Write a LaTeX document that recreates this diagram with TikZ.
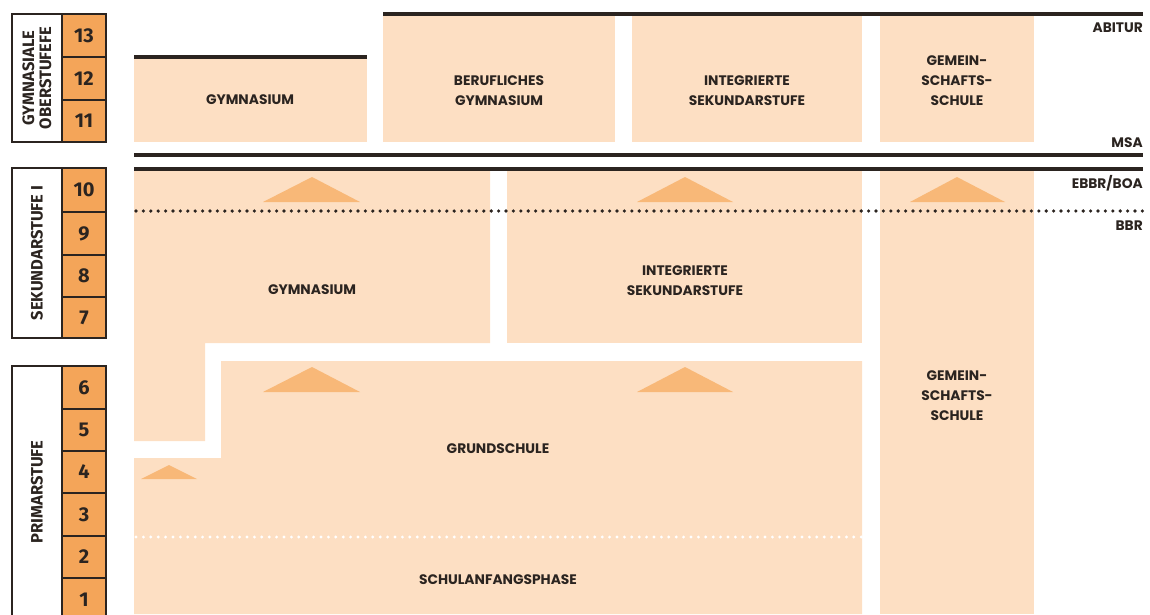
\documentclass[tikz,border=0pt]{standalone}
\usepackage{fontspec}
\newfontfamily\labfont{Poppins}
\newfontfamily\numfont{Fira Sans}
\definecolor{peach}{HTML}{FDDFC3}
\definecolor{tricol}{HTML}{F8B878}
\definecolor{cellor}{HTML}{F4A559}
\definecolor{ink}{HTML}{2B2420}
\tikzset{
  area/.style={fill=peach, draw=none},
  tri/.style={fill=tricol, draw=none},
  bar/.style={draw=ink, line width=3.5pt},
  dotline/.style={draw=ink, line width=3.6pt, line cap=round, dash pattern=on 0pt off 7.4pt},
  wdotline/.style={draw=white, line width=3.2pt, line cap=round, dash pattern=on 0pt off 7.4pt},
  lab/.style={font=\labfont\bfseries\fontsize{13.8}{20}\selectfont, text=ink, align=center, inner sep=0pt},
  rlab/.style={lab, anchor=east},
  cell/.style={fill=cellor, draw=ink, line width=1.8pt},
  stagebox/.style={fill=white, draw=ink, line width=1.8pt},
  num/.style={font=\numfont\bfseries\fontsize{20}{20}\selectfont, text=ink, inner sep=0pt},
  stage/.style={font=\numfont\bfseries\fontsize{16.5}{17}\selectfont, text=ink, rotate=90, align=center, inner sep=0pt}
}
\begin{document}
\begin{tikzpicture}[x=1pt, y=-1pt]
\useasboundingbox (0,0) rectangle (1150,614);
% ---- upper level (11-13)
\fill[area] (134,57) rectangle (367,142);
\fill[area] (383,14) rectangle (615,142);
\fill[area] (632,14) rectangle (862,142);
\fill[area] (880,14) rectangle (1034,142);
% ---- Sekundarstufe I
\fill[area] (134,169) -- (490,169) -- (490,343) -- (205,343) -- (205,441) -- (134,441) -- cycle;
\fill[area] (507,169) rectangle (862,343);
\fill[area] (880,169) rectangle (1034,614);
% ---- Grundschule
\fill[area] (221,361) -- (862,361) -- (862,614) -- (134,614) -- (134,458) -- (221,458) -- cycle;
% ---- triangles
\fill[tri] (263,202) -- (312,177) -- (360,202) -- cycle;
\fill[tri] (637,202) -- (685,177) -- (733,202) -- cycle;
\fill[tri] (910,202) -- (957,177) -- (1005,202) -- cycle;
\fill[tri] (263,392) -- (312,367) -- (360,392) -- cycle;
\fill[tri] (637,392) -- (685,367) -- (733,392) -- cycle;
\fill[tri] (141,479) -- (169,465) -- (197,479) -- cycle;
% ---- lines
\coordinate (gl) at (134,57); \coordinate (gr) at (367,57);
\draw[bar] (gl) -- (gr);
\coordinate (al) at (383,14); \coordinate (ar) at (1143,14);
\draw[bar] (al) -- (ar);
\coordinate (m1l) at (134,155); \coordinate (m1r) at (1143,155);
\coordinate (m2l) at (134,169); \coordinate (m2r) at (1143,169);
\draw[bar] (m1l) -- (m1r);
\draw[bar] (m2l) -- (m2r);
\coordinate (bl) at (136,211); \coordinate (br) at (1143,211);
\draw[dotline] (bl) -- (br);
\coordinate (sl) at (136,537); \coordinate (sr) at (862,537);
\draw[wdotline] (sl) -- (sr);
% ---- labels in areas
\node[lab] (gymo) at (250,100) {GYMNASIUM};
\node[lab] (bgym) at (499,91) {BERUFLICHES\\GYMNASIUM};
\node[lab] (isso) at (747,91) {INTEGRIERTE\\SEKUNDARSTUFE};
\node[lab] (gemo) at (957,81) {GEMEIN-\\SCHAFTS-\\SCHULE};
\node[lab] (gymu) at (312,290) {GYMNASIUM};
\node[lab] (issu) at (685,281) {INTEGRIERTE\\SEKUNDARSTUFE};
\node[lab] (gemu) at (957,396) {GEMEIN-\\SCHAFTS-\\SCHULE};
\node[lab] (grund) at (498,449) {GRUNDSCHULE};
\node[lab] (sap) at (498,580) {SCHULANFANGSPHASE};
% ---- right labels
\node[rlab] (abi) at (1143,28) {ABITUR};
\node[rlab] (msa) at (1143,143) {MSA};
\node[rlab] (ebbr) at (1143,183) {EBBR/BOA};
\node[rlab] (bbr) at (1143,226) {BBR};
% ---- stage boxes
\draw[stagebox] (12,14) rectangle (62,142);
\draw[cell] (62,14) rectangle (106,57);
\draw[cell] (62,57) rectangle (106,100);
\draw[cell] (62,100) rectangle (106,142);
\node[num] (n13) at (84,35.5) {13};
\node[num] (n12) at (84,78.5) {12};
\node[num] (n11) at (84,121) {11};
\node[stage] (s1) at (37,78) {GYMNASIALE\\OBERSTUFEFE};
\draw[stagebox] (12,168) rectangle (62,338);
\draw[cell] (62,168) rectangle (106,212);
\draw[cell] (62,212) rectangle (106,255);
\draw[cell] (62,255) rectangle (106,297);
\draw[cell] (62,297) rectangle (106,338);
\node[num] (n10) at (84,190) {10};
\node[num] (n9) at (84,233.5) {9};
\node[num] (n8) at (84,276) {8};
\node[num] (n7) at (84,317.5) {7};
\node[stage] (s2) at (37,253) {SEKUNDARSTUFE I};
\draw[stagebox] (12,366) rectangle (62,640);
\draw[cell] (62,366) rectangle (106,409);
\draw[cell] (62,409) rectangle (106,451);
\draw[cell] (62,451) rectangle (106,493);
\draw[cell] (62,493) rectangle (106,536);
\draw[cell] (62,536) rectangle (106,578);
\draw[cell] (62,578) rectangle (106,640);
\node[num] (n6) at (84,387.5) {6};
\node[num] (n5) at (84,430) {5};
\node[num] (n4) at (84,472) {4};
\node[num] (n3) at (84,514.5) {3};
\node[num] (n2) at (84,557) {2};
\node[num] (n1) at (84,599.5) {1};
\node[stage] (s3) at (37,492) {PRIMARSTUFE};
\end{tikzpicture}
\end{document}
